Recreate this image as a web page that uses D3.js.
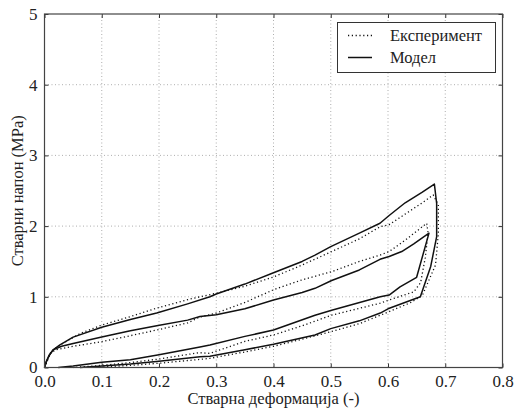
<!DOCTYPE html>
<html>
<head>
<meta charset="utf-8">
<script src="https://cdn.jsdelivr.net/npm/d3@7"></script>
<style>
  html, body { margin: 0; padding: 0; background: #fff; }
  svg { display: block; }
  svg text { font-family: "Liberation Serif", "Times New Roman", "DejaVu Serif", serif !important; fill: #222; }
</style>
</head>
<body>
<svg id="chart" width="516" height="414"></svg>
<script>
// Tick values
const xTicks = [0.0, 0.1, 0.2, 0.3, 0.4, 0.5, 0.6, 0.7, 0.8];
const yTicks = [0, 1, 2, 3, 4, 5];

// Model: larger cycle (loading then unloading), true strain / true stress (MPa)
const modelOuterStrain = [0, 0.003, 0.008, 0.015, 0.027, 0.05, 0.1, 0.15, 0.196, 0.25, 0.289, 0.3, 0.35, 0.40, 0.45, 0.4725, 0.50, 0.55, 0.586, 0.602, 0.63, 0.66, 0.681,
  0.685, 0.685, 0.6746, 0.6565, 0.6, 0.5865, 0.55, 0.50, 0.4725, 0.40, 0.35, 0.289, 0.2716, 0.2, 0.15, 0.1, 0.062];
const modelOuterStress = [0, 0.08, 0.17, 0.25, 0.32, 0.43, 0.57, 0.68, 0.77, 0.9, 1.0, 1.04, 1.18, 1.34, 1.50, 1.59, 1.71, 1.90, 2.04, 2.15, 2.33, 2.48, 2.595,
  2.32, 1.85, 1.43, 1.0, 0.83, 0.77, 0.66, 0.55, 0.46, 0.33, 0.25, 0.16, 0.153, 0.09, 0.05, 0.02, 0];

// Model: smaller cycle
const modelInnerStrain = [0, 0.003, 0.008, 0.015, 0.03, 0.05, 0.1, 0.15, 0.196, 0.25, 0.2716, 0.3, 0.35, 0.40, 0.45, 0.4725, 0.5016, 0.55, 0.586, 0.602, 0.624, 0.645, 0.6716,
  0.650, 0.621, 0.602, 0.5865, 0.5016, 0.4725, 0.40, 0.35, 0.289, 0.2716, 0.2, 0.15, 0.1, 0.05, 0.024];
const modelInnerStress = [0, 0.08, 0.17, 0.25, 0.30, 0.34, 0.43, 0.52, 0.59, 0.67, 0.72, 0.745, 0.83, 0.955, 1.06, 1.12, 1.23, 1.38, 1.53, 1.57, 1.64, 1.75, 1.90,
  1.276, 1.14, 1.025, 1.0, 0.81, 0.74, 0.53, 0.44, 0.318, 0.29, 0.18, 0.11, 0.075, 0.02, 0];

// Experiment: larger cycle
const expOuterStrain = [0, 0.005, 0.01, 0.02, 0.04, 0.062, 0.1, 0.15, 0.196, 0.25, 0.2716, 0.3, 0.35, 0.40, 0.45, 0.5016, 0.55, 0.586, 0.602, 0.63, 0.66, 0.679,
  0.688, 0.688, 0.683, 0.675, 0.66, 0.64, 0.602, 0.55, 0.5016, 0.45, 0.40, 0.35, 0.289, 0.2716, 0.2, 0.15, 0.085];
const expOuterStress = [0, 0.1, 0.2, 0.28, 0.38, 0.48, 0.60, 0.72, 0.84, 0.96, 1.0, 1.05, 1.15, 1.28, 1.45, 1.64, 1.82, 1.99, 2.02, 2.17, 2.33, 2.44,
  2.3, 1.9, 1.45, 1.3, 1.02, 0.92, 0.79, 0.62, 0.51, 0.40, 0.30, 0.22, 0.13, 0.115, 0.06, 0.03, 0];

// Experiment: smaller cycle
const expInnerStrain = [0, 0.005, 0.0096, 0.02, 0.05, 0.1, 0.15, 0.196, 0.25, 0.27, 0.3, 0.35, 0.40, 0.45, 0.5016, 0.55, 0.586, 0.602, 0.63, 0.6676,
  0.67, 0.665, 0.657, 0.645, 0.602, 0.5865, 0.5016, 0.45, 0.40, 0.35, 0.289, 0.27, 0.2, 0.15, 0.1, 0.05];
const expInnerStress = [0, 0.1, 0.2, 0.25, 0.3, 0.365, 0.45, 0.53, 0.63, 0.71, 0.77, 0.92, 1.10, 1.24, 1.355, 1.50, 1.59, 1.64, 1.80, 2.04,
  1.9, 1.55, 1.2, 1.07, 0.955, 0.91, 0.74, 0.59, 0.46, 0.37, 0.2, 0.21, 0.12, 0.07, 0.03, 0];

const legendLabels = ["Експеримент", "Модел"];
const xTitle = "Стварна деформација (-)";
const yTitle = "Стварни напон (MPa)";

const svg = d3.select("#chart");
const margin = { left: 44.5, right: 13.5, top: 14, bottom: 46.5 };
const W = 516, H = 414;
const x = d3.scaleLinear().domain([0, 0.8]).range([margin.left, W - margin.right]);
const y = d3.scaleLinear().domain([0, 5]).range([H - margin.bottom, margin.top]);

// Dotted grid
const grid = svg.append("g");
grid.selectAll(".gx").data(xTicks.slice(1, -1)).enter().append("line")
  .attr("x1", d => x(d)).attr("x2", d => x(d))
  .attr("y1", y(0)).attr("y2", y(5))
  .attr("stroke", "#999").attr("stroke-width", 0.8).attr("stroke-dasharray", "1,2.5");
grid.selectAll(".gy").data(yTicks.slice(1, -1)).enter().append("line")
  .attr("x1", x(0)).attr("x2", x(0.8))
  .attr("y1", d => y(d)).attr("y2", d => y(d))
  .attr("stroke", "#999").attr("stroke-width", 0.8).attr("stroke-dasharray", "1,2.5");

// Curves
const line = d3.line().x(d => x(d[0])).y(d => y(d[1]));
const zip = (a, b) => a.map((v, i) => [v, b[i]]);

const curves = [
  { pts: zip(expOuterStrain, expOuterStress), dash: "1.2,2.6", w: 1.3 },
  { pts: zip(expInnerStrain, expInnerStress), dash: "1.2,2.6", w: 1.3 },
  { pts: zip(modelOuterStrain, modelOuterStress), dash: null, w: 1.5 },
  { pts: zip(modelInnerStrain, modelInnerStress), dash: null, w: 1.5 }
];
svg.append("g").selectAll("path").data(curves).enter().append("path")
  .attr("d", d => line(d.pts))
  .attr("fill", "none")
  .attr("stroke", "#111")
  .attr("stroke-width", d => d.w)
  .attr("stroke-linejoin", "round")
  .attr("stroke-dasharray", d => d.dash);

// Axes with inward ticks on all sides
const tickLen = 4;
const fmtX = d3.format(".1f");
const axB = d3.axisBottom(x).tickValues(xTicks).tickFormat(fmtX).tickSizeInner(-tickLen).tickSizeOuter(0).tickPadding(7);
const axT = d3.axisTop(x).tickValues(xTicks).tickFormat("").tickSizeInner(-tickLen).tickSizeOuter(0);
const axL = d3.axisLeft(y).tickValues(yTicks).tickFormat(d3.format("d")).tickSizeInner(-tickLen).tickSizeOuter(0).tickPadding(7);
const axR = d3.axisRight(y).tickValues(yTicks).tickFormat("").tickSizeInner(-tickLen).tickSizeOuter(0);

function styleAxis(g) {
  g.attr("font-family", null).attr("font-size", null);
  g.select(".domain").remove();
  g.selectAll(".tick line").attr("stroke", "#333");
  g.selectAll(".tick text").style("font-size", "17px").attr("fill", "#222");
}
svg.append("g").attr("transform", `translate(0,${y(0)})`).call(axB).call(styleAxis);
svg.append("g").attr("transform", `translate(0,${y(5)})`).call(axT).call(styleAxis);
svg.append("g").attr("transform", `translate(${x(0)},0)`).call(axL).call(styleAxis);
svg.append("g").attr("transform", `translate(${x(0.8)},0)`).call(axR).call(styleAxis);

// Frame
svg.append("rect")
  .attr("x", x(0)).attr("y", y(5))
  .attr("width", x(0.8) - x(0)).attr("height", y(0) - y(5))
  .attr("fill", "none").attr("stroke", "#444").attr("stroke-width", 1.2);

// Axis titles
svg.append("text").attr("x", (x(0) + x(0.8)) / 2).attr("y", 404)
  .attr("text-anchor", "middle").style("font-size", "16.5px").text(xTitle);
svg.append("text")
  .attr("transform", `translate(23,${(y(0) + y(5)) / 2}) rotate(-90)`)
  .attr("text-anchor", "middle").style("font-size", "16.5px").text(yTitle);

// Legend
const lg = svg.append("g");
lg.append("rect").attr("x", 337.5).attr("y", 22.5).attr("width", 158).attr("height", 50)
  .attr("fill", "#fff").attr("stroke", "#333").attr("stroke-width", 1);
const legendItems = [
  { label: legendLabels[0], dash: "1.2,2.6", w: 1.3, cy: 35.5 },
  { label: legendLabels[1], dash: null, w: 1.5, cy: 57.5 }
];
legendItems.forEach(it => {
  lg.append("line").attr("x1", 348).attr("x2", 372).attr("y1", it.cy).attr("y2", it.cy)
    .attr("stroke", "#111").attr("stroke-width", it.w).attr("stroke-dasharray", it.dash);
  lg.append("text").attr("x", 390).attr("y", it.cy).attr("dy", "0.35em")
    .style("font-size", "16.5px").text(it.label);
});
</script>
</body>
</html>
